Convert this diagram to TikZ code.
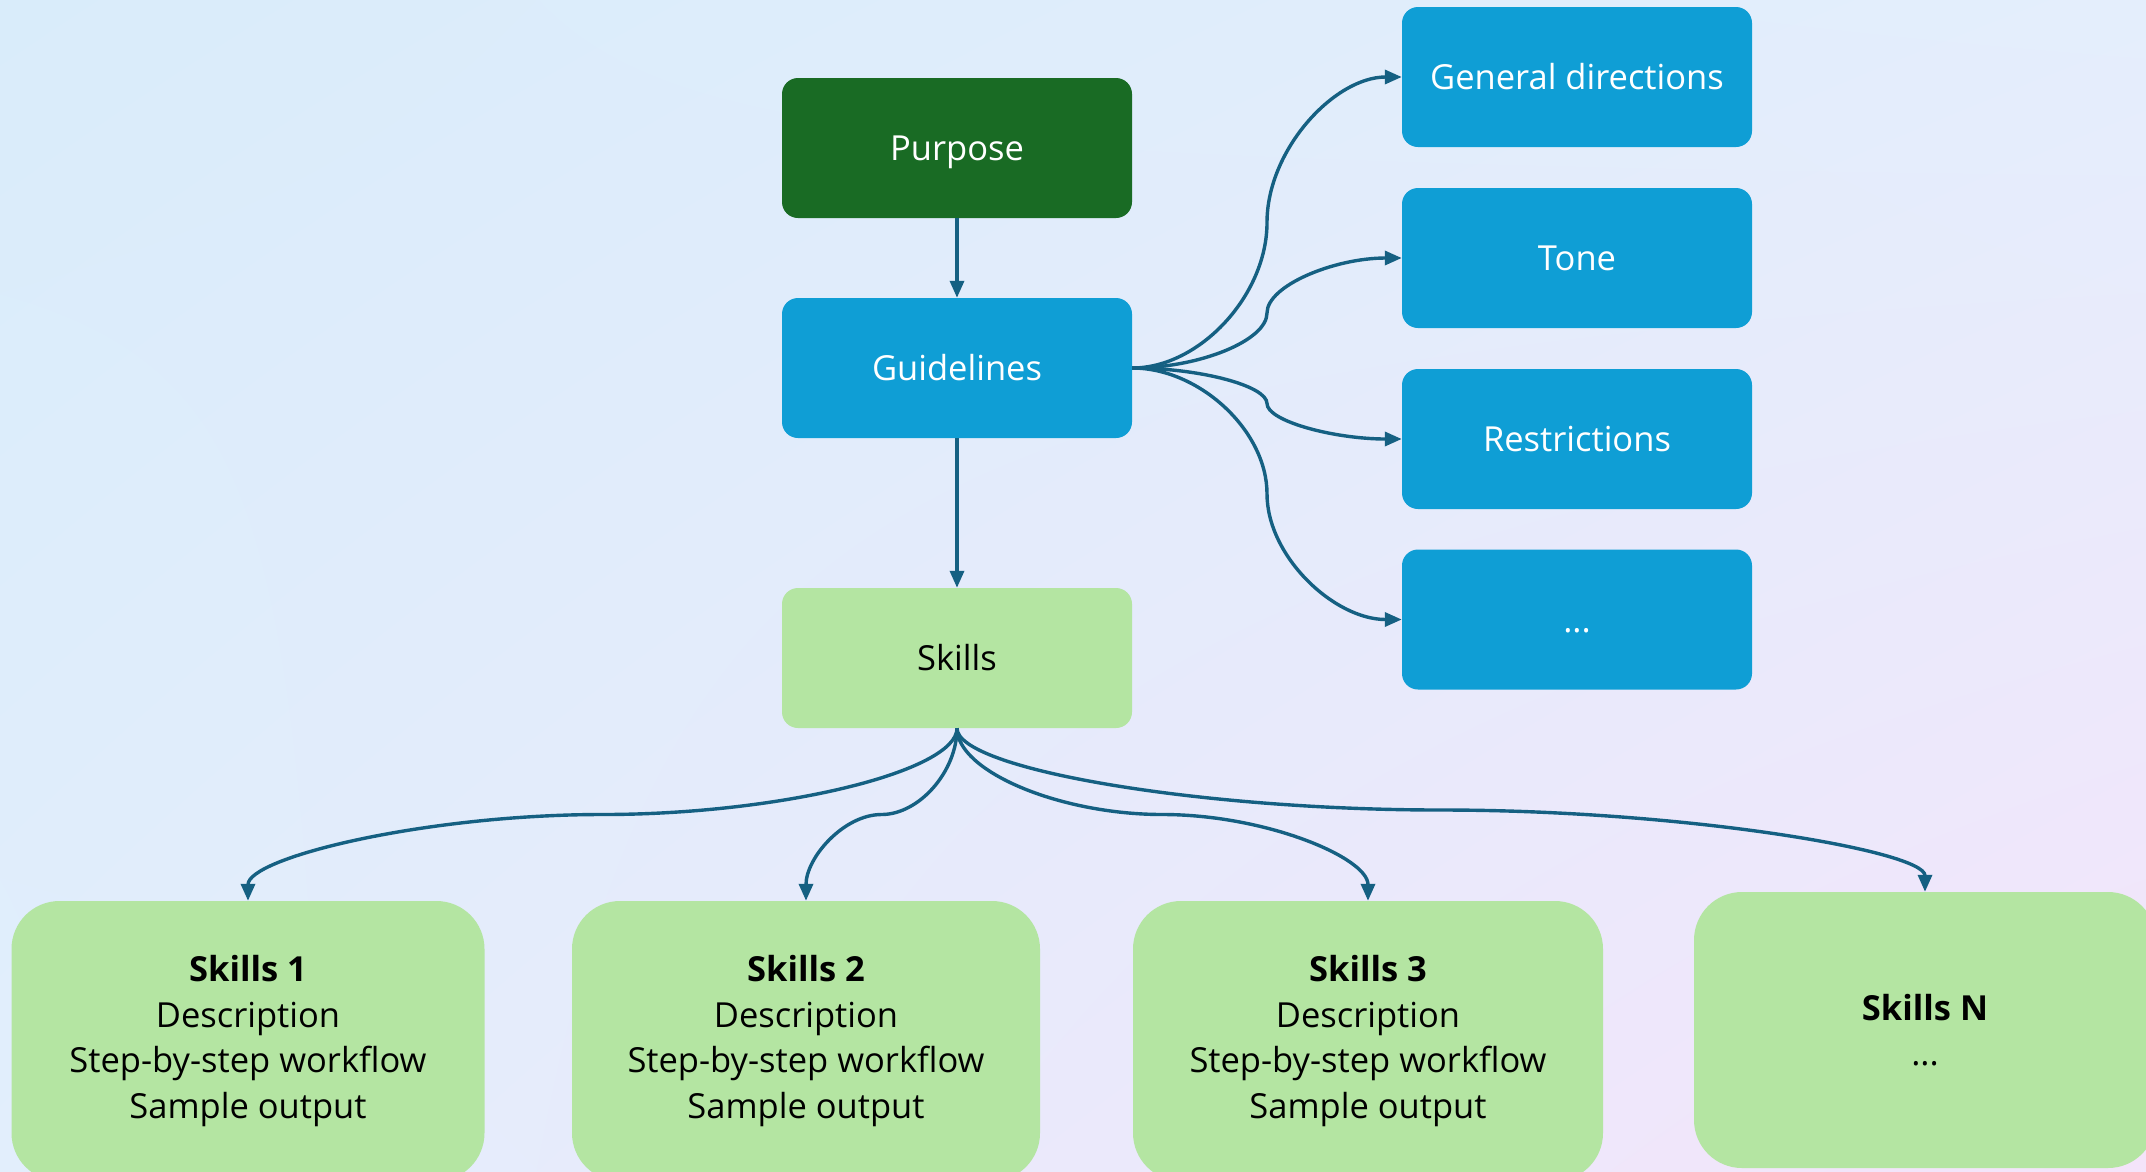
\documentclass[tikz,border=0pt]{standalone}
\usepackage{fontspec}
\setmainfont{Open Sans}
\usetikzlibrary{arrows.meta,calc,shadings}
\definecolor{bgUL}{HTML}{D9ECFA}
\definecolor{bgUR}{HTML}{E4EEFC}
\definecolor{bgLL}{HTML}{E2EEFC}
\definecolor{bgLR}{HTML}{F4E4FA}
\definecolor{linecol}{HTML}{156082}
\definecolor{darkgreen}{HTML}{196B24}
\definecolor{bluebox}{HTML}{0F9ED5}
\definecolor{lightgreen}{HTML}{B4E5A2}
\begin{document}
\begin{tikzpicture}[x=1pt,y=-1pt,
  every node/.style={font=\fontsize{34.5}{45.5}\selectfont, align=center, inner sep=0pt},
  topbox/.style={rounded corners=16pt, minimum width=350pt, minimum height=140pt, text height=25pt, text depth=0pt},
  purposebox/.style={topbox, fill=darkgreen, text=white},
  bluenode/.style={topbox, fill=bluebox, text=white},
  greennode/.style={topbox, fill=lightgreen, text=black},
  skillbox/.style={rounded corners=48pt, fill=lightgreen, text=black, minimum height=280pt},
  conn/.style={draw=linecol, line width=3.4pt, -{Triangle[length=17pt,width=14pt]}},
  hcurve/.style={to path={let \p1=(\tikztostart), \p2=(\tikztotarget) in
    .. controls ({(3*\x1+\x2)/4},\y1) and ({(\x1+\x2)/2},{(3*\y1+\y2)/4}) .. ({(\x1+\x2)/2},{(\y1+\y2)/2})
    .. controls ({(\x1+\x2)/2},{(\y1+3*\y2)/4}) and ({(\x1+3*\x2)/4},\y2) .. (\tikztotarget)}},
  vcurve/.style={to path={let \p1=(\tikztostart), \p2=(\tikztotarget) in
    .. controls (\x1,{(3*\y1+\y2)/4}) and ({(3*\x1+\x2)/4},{(\y1+\y2)/2}) .. ({(\x1+\x2)/2},{(\y1+\y2)/2})
    .. controls ({(\x1+3*\x2)/4},{(\y1+\y2)/2}) and (\x2,{(\y1+3*\y2)/4}) .. (\tikztotarget)}}
]
\useasboundingbox (0,0) rectangle (2146,1171);
\shade[upper left=bgUL, upper right=bgUR, lower left=bgLL, lower right=bgLR] (0,0) rectangle (2146,1171);

\node[purposebox] (p) at (957,148) {Purpose};
\node[bluenode] (g) at (957,368) {Guidelines};
\node[greennode] (s) at (957,658) {Skills};

\node[bluenode] (gd) at (1577,77) {General directions};
\node[bluenode] (t) at (1577,258) {Tone};
\node[bluenode] (r) at (1577,439) {Restrictions};
\node[bluenode] (e) at (1577,619.5) {...};

\node[skillbox, minimum width=473pt] (s1) at (248,1041) {\textbf{Skills 1}\\Description\\Step-by-step workflow\\Sample output};
\node[skillbox, minimum width=468pt] (s2) at (806,1041) {\textbf{Skills 2}\\Description\\Step-by-step workflow\\Sample output};
\node[skillbox, minimum width=470pt] (s3) at (1368,1041) {\textbf{Skills 3}\\Description\\Step-by-step workflow\\Sample output};
\node[skillbox, minimum width=462pt, minimum height=276pt] (sn) at (1925,1030) {\textbf{Skills N}\\...};

\draw[conn] (p.south) -- (g.north);
\draw[conn] (g.south) -- (s.north);

\draw[conn] (g.east) to[hcurve] (gd.west);
\draw[conn] (g.east) to[hcurve] (t.west);
\draw[conn] (g.east) to[hcurve] (r.west);
\draw[conn] (g.east) to[hcurve] (e.west);

\draw[conn] (s.south) to[vcurve] (s1.north);
\draw[conn] (s.south) to[vcurve] (s2.north);
\draw[conn] (s.south) to[vcurve] (s3.north);
\draw[conn] (s.south) to[vcurve] (sn.north);
\end{tikzpicture}
\end{document}
